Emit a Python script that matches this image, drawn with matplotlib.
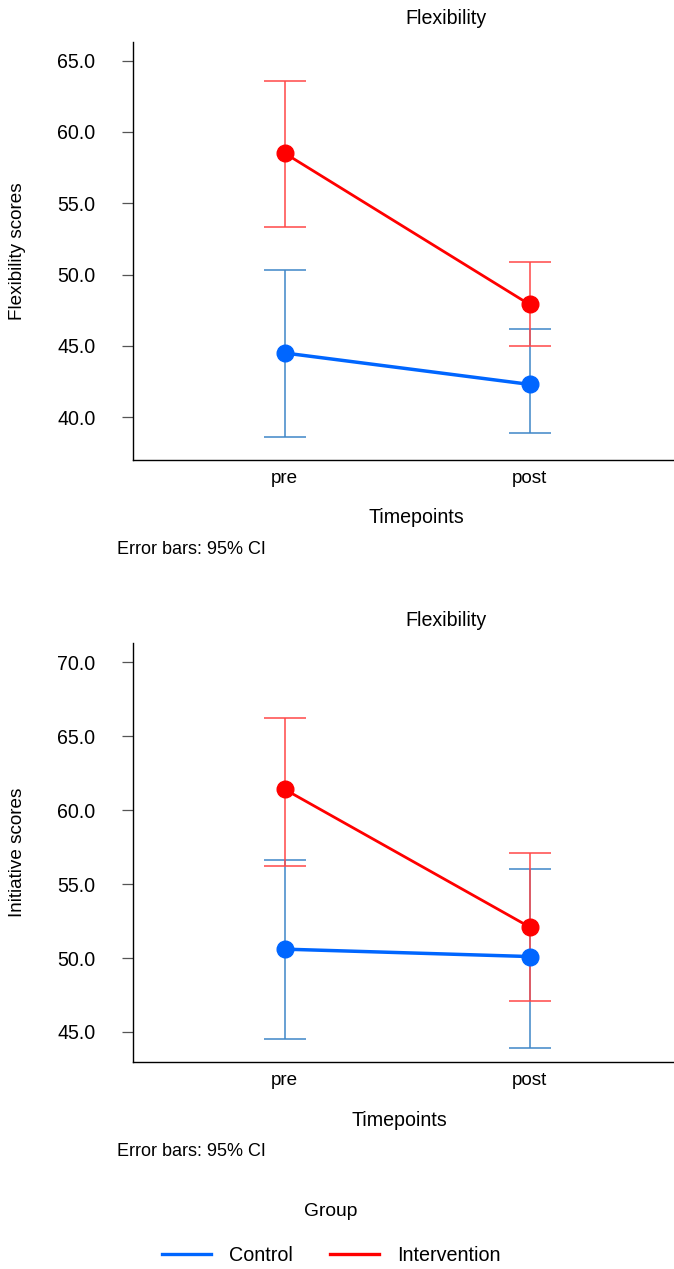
import matplotlib
matplotlib.use("Agg")
import matplotlib.pyplot as plt
from matplotlib.lines import Line2D
import numpy as np

plt.rcParams["font.family"] = ["Liberation Sans", "DejaVu Sans"]
FS = 13.6

timepoints = ["pre", "post"]
groups = ["Control", "Intervention"]

# flexibility scores: mean, lower CI, upper CI
flex_control_mean = [44.5, 42.3]
flex_control_lo = [38.6, 38.9]
flex_control_hi = [50.3, 46.2]
flex_interv_mean = [58.5, 47.9]
flex_interv_lo = [53.3, 45.0]
flex_interv_hi = [63.6, 50.9]

# initiative scores
init_control_mean = [50.6, 50.1]
init_control_lo = [44.5, 43.9]
init_control_hi = [56.6, 56.0]
init_interv_mean = [61.4, 52.1]
init_interv_lo = [56.2, 47.1]
init_interv_hi = [66.2, 57.1]

line_colors = {"Control": "#0066ff", "Intervention": "#ff0000"}
line_widths = {"Control": 2.5, "Intervention": 2.0}
err_colors = {"Control": "#3f86c8", "Intervention": "#ff4848"}

W, H = 674, 1269
fig = plt.figure(figsize=(W / 100, H / 100), dpi=100)


def px_axes(left, top, right, bottom):
    return fig.add_axes([left / W, 1 - bottom / H, (right - left) / W, (bottom - top) / H])


def draw_panel(ax, series, ylim, yticks, ylabel):
    x = np.arange(len(timepoints))
    for name, (mean, lo, hi) in series:
        mean = np.array(mean)
        err = [mean - np.array(lo), np.array(hi) - mean]
        ax.errorbar(x, mean, yerr=err, fmt="none", ecolor=err_colors[name],
                    elinewidth=1.1, capsize=15, capthick=1.1, zorder=2)
        ax.plot(x, mean, color=line_colors[name], lw=line_widths[name],
                marker="o", markersize=12, zorder=3)
    ax.set_xlim(-0.62, 1.59)
    ax.set_ylim(*ylim)
    ax.set_yticks(yticks)
    ax.set_yticklabels([f"{v:.1f}" for v in yticks])
    ax.set_xticks(x)
    ax.set_xticklabels(timepoints)
    ax.tick_params(axis="y", length=8, width=0.9, color="#555555", pad=19,
                   labelsize=FS + 0.5)
    ax.tick_params(axis="x", length=0, pad=7, labelsize=FS)
    for s in ["top", "right"]:
        ax.spines[s].set_visible(False)
    ax.spines["left"].set_linewidth(1)
    ax.spines["bottom"].set_linewidth(1)
    ax.set_ylabel(ylabel, fontsize=FS)
    ax.yaxis.set_label_coords(-(133 - 26) / (674 - 133), 0.5)


ax1 = px_axes(133, 42, 674, 460)
draw_panel(ax1,
           [("Control", (flex_control_mean, flex_control_lo, flex_control_hi)),
            ("Intervention", (flex_interv_mean, flex_interv_lo, flex_interv_hi))],
           (37.0, 66.3), [40, 45, 50, 55, 60, 65], "Flexibility scores")

ax2 = px_axes(133, 643, 674, 1062)
draw_panel(ax2,
           [("Control", (init_control_mean, init_control_lo, init_control_hi)),
            ("Intervention", (init_interv_mean, init_interv_lo, init_interv_hi))],
           (42.97, 71.3), [45, 50, 55, 60, 65, 70], "Initiative scores")

fig.text(446 / W, 1 - 18 / H, "Flexibility", ha="center", va="center", fontsize=FS + 0.5)
fig.text(446 / W, 1 - 620 / H, "Flexibility", ha="center", va="center", fontsize=FS + 0.5)
fig.text(416 / W, 1 - 518 / H, "Timepoints", ha="center", va="center", fontsize=FS + 0.5)
fig.text(399 / W, 1 - 1120 / H, "Timepoints", ha="center", va="center", fontsize=FS + 0.5)
fig.text(117 / W, 1 - 549 / H, "Error bars: 95% CI", ha="left", va="center", fontsize=FS - 0.6)
fig.text(117 / W, 1 - 1152 / H, "Error bars: 95% CI", ha="left", va="center", fontsize=FS - 0.6)

handles = [Line2D([], [], color=line_colors[g], lw=2.4) for g in groups]
leg = fig.legend(handles, groups, title="Group", ncol=2, frameon=False,
                 loc="center", bbox_to_anchor=(331 / W, 1 - 1234 / H),
                 fontsize=FS + 0.6, title_fontsize=FS + 0.3, handlelength=2.5,
                 columnspacing=1.9, handletextpad=0.9)
leg._legend_box.sep = 19

fig.savefig("out.png", dpi=100)
